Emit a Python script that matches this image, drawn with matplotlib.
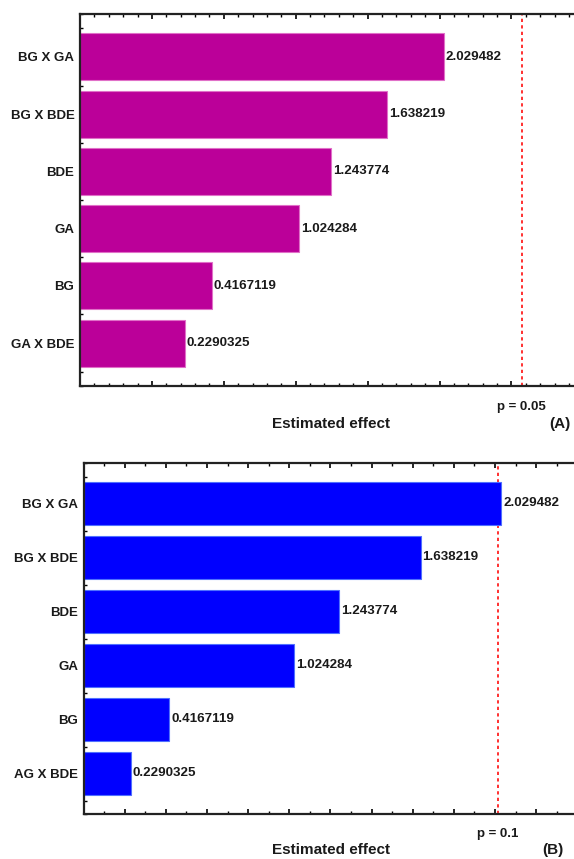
import matplotlib
matplotlib.use("Agg")
import matplotlib.pyplot as plt
from matplotlib.ticker import MultipleLocator

plt.rcParams['font.family'] = ['Liberation Sans', 'DejaVu Sans']

# Pareto chart data (standardized effects)
labels_a = ["BG X GA", "BG X BDE", "BDE", "GA", "BG", "GA X BDE"]
labels_b = ["BG X GA", "BG X BDE", "BDE", "GA", "BG", "AG X BDE"]
effects = [2.029482, 1.638219, 1.243774, 1.024284, 0.4167119, 0.2290325]
effect_text = ["2.029482", "1.638219", "1.243774", "1.024284", "0.4167119", "0.2290325"]
crit_a = 2.5706   # p = 0.05
crit_b = 2.015    # p = 0.1

W, H = 574, 859
fig = plt.figure(figsize=(W / 100, H / 100), dpi=100)

TXT = "#1a1a1a"


def px_axes(left, top, right, bottom):
    return fig.add_axes([left / W, (H - bottom) / H, (right - left) / W, (bottom - top) / H])


def pareto(ax, labels, xmin, xmax, color, edge, crit, ptxt, major, minor, bar_h):
    ypos = list(range(len(labels)))
    widths = [v - xmin for v in effects]
    ax.barh(ypos, widths, left=xmin, height=bar_h, color=color, edgecolor=edge, linewidth=0.8, zorder=2)
    for y, v, t in zip(ypos, effects, effect_text):
        ax.text(v + 0.012 * (xmax - xmin) / 3, y, t, va="center", ha="left",
                fontsize=9.6, fontweight="bold", color=TXT, zorder=3)
    ax.axvline(crit, color="#ff2020", linestyle=(0, (1.8, 1.8)), linewidth=1.3, zorder=1)
    ax.set_xlim(xmin, xmax)
    ax.set_ylim(len(labels) - 0.25, -0.75)
    ax.set_yticks(ypos)
    ax.set_yticklabels(labels, fontsize=9.5, fontweight="bold", color=TXT)
    ax.yaxis.set_minor_locator(MultipleLocator(0.25))
    ax.xaxis.set_major_locator(MultipleLocator(major))
    ax.xaxis.set_minor_locator(MultipleLocator(minor))
    ax.tick_params(axis="both", which="major", direction="in", length=3.5, width=1.2,
                   top=True, bottom=True, left=True, right=False, labelbottom=False, pad=4)
    ax.tick_params(axis="both", which="minor", direction="in", length=2, width=1,
                   top=True, bottom=True, left=True, right=False)
    for s in ("left", "top", "bottom"):
        ax.spines[s].set_linewidth(1.6)
        ax.spines[s].set_color("#222222")
    ax.spines["right"].set_visible(False)
    ax.text(crit, -0.04, ptxt, transform=ax.get_xaxis_transform(), ha="center", va="top",
            fontsize=9.5, fontweight="bold", color=TXT)
    return ax


# Panel A
ax_a = px_axes(80, 14, 577, 386)
xmin_a = -0.5
xmax_a = xmin_a + (577 - 80) / 143.8
pareto(ax_a, labels_a, xmin_a, xmax_a, "#bb0099", "#e070c8", crit_a, "p = 0.05", 0.5, 0.1, 0.82)
fig.text(331 / W, 1 - 424 / H, "Estimated effect", ha="center", va="center",
         fontsize=11, fontweight="bold", color=TXT)
fig.text(560 / W, 1 - 424 / H, "(A)", ha="center", va="center",
         fontsize=11, fontweight="bold", color=TXT)

# Panel B
ax_b = px_axes(83.6, 463, 577, 814)
xmin_b = 0.0
xmax_b = xmin_b + (577 - 83.6) / 205.7
pareto(ax_b, labels_b, xmin_b, xmax_b, "#0000ff", "#5070ff", crit_b, "p = 0.1", 0.2, 0.1, 0.81)
fig.text(331 / W, 1 - 850 / H, "Estimated effect", ha="center", va="center",
         fontsize=11, fontweight="bold", color=TXT)
fig.text(553 / W, 1 - 850 / H, "(B)", ha="center", va="center",
         fontsize=11, fontweight="bold", color=TXT)

fig.savefig("out.png", dpi=100)
